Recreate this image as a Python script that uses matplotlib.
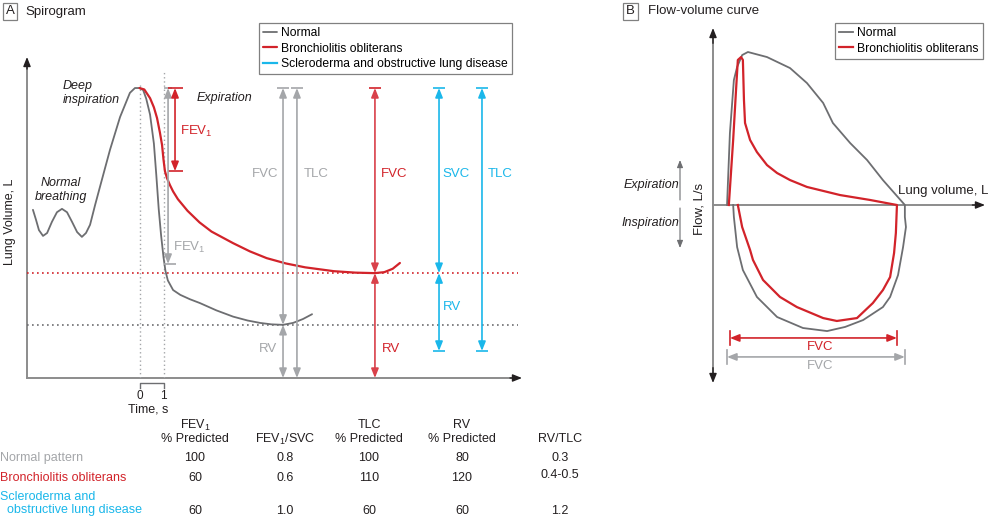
import matplotlib
matplotlib.use('Agg')
import matplotlib.pyplot as plt
import matplotlib.transforms as mtransforms
from matplotlib.patches import Rectangle
from matplotlib.lines import Line2D

plt.rcParams['font.family'] = ['Liberation Sans', 'DejaVu Sans']
plt.rcParams['mathtext.fontset'] = 'custom'
plt.rcParams['mathtext.rm'] = 'Liberation Sans'
plt.rcParams['mathtext.it'] = 'Liberation Sans:italic'

# ---------------- data ----------------
series_names = ['Normal', 'Bronchiolitis obliterans', 'Scleroderma and obstructive lung disease']

# Spirogram (time s, volume L)
t_normal = [-4.44, -4.31, -4.19, -4.02, -3.85, -3.65, -3.44, -3.23, -3.02, -2.81, -2.60, -2.40,
            -2.23, -2.06, -1.85, -1.65, -1.23, -0.81, -0.40, -0.19, 0.0, 0.15, 0.28, 0.44, 0.60,
            0.70, 0.80, 0.90, 1.00, 1.08, 1.18, 1.40, 1.70, 2.10, 2.52, 3.20, 3.90, 4.50, 5.02,
            5.50, 5.98, 6.40, 6.81, 7.19]
v_normal = [3.48, 3.27, 3.06, 2.94, 3.00, 3.23, 3.43, 3.50, 3.43, 3.23, 3.02, 2.92,
            3.00, 3.17, 3.58, 3.95, 4.72, 5.40, 5.90, 6.00, 6.00, 5.96, 5.78, 5.45, 4.85,
            4.20, 3.50, 2.95, 2.50, 2.22, 2.02, 1.82, 1.72, 1.63, 1.55, 1.40, 1.27, 1.19, 1.14,
            1.11, 1.10, 1.14, 1.22, 1.32]
t_bo = [0.0, 0.20, 0.44, 0.60, 0.73, 0.85, 0.94, 1.00, 1.06, 1.15, 1.27, 1.40, 1.60, 2.00, 2.50,
        3.00, 3.90, 4.60, 5.30, 6.10, 6.90, 8.10, 9.00, 9.80, 10.20, 10.55, 10.85]
v_bo = [6.00, 5.97, 5.79, 5.60, 5.38, 5.08, 4.82, 4.52, 4.28, 4.13, 3.99, 3.86, 3.70, 3.46, 3.22,
        3.03, 2.79, 2.62, 2.48, 2.37, 2.29, 2.21, 2.18, 2.17, 2.19, 2.26, 2.38]

TLC_A = 6.0          # total lung capacity level (L)
RV_normal = 1.10
RV_bo = 2.17
RV_scl_floor = 0.56  # scleroderma lower level
FEV1_normal_end = 2.36
FEV1_bo_end = 4.28

# Flow-volume (volume L, flow L/s)
fv_vol_normal = [0.39, 0.47, 0.58, 0.67, 0.81, 0.97, 1.50, 2.14, 2.61, 3.06, 3.33, 3.81, 4.28, 4.72, 5.33,
                 5.33, 5.36, 5.28, 5.14, 4.92, 4.72, 4.17, 3.67, 3.17, 2.50, 1.78, 1.22, 0.83, 0.67, 0.58, 0.56]
fv_flow_normal = [0.0, 4.71, 8.17, 9.02, 9.80, 10.0, 9.67, 8.95, 7.97, 6.67, 5.36, 4.05, 2.94, 1.63, 0.0,
                  -0.78, -1.44, -2.75, -4.58, -6.01, -6.67, -7.52, -7.97, -8.24, -8.04, -7.32, -6.01, -4.25, -2.75, -0.78, 0.0]
fv_vol_bo = [0.44, 0.56, 0.64, 0.69, 0.78, 0.83, 0.86, 0.89, 1.03, 1.22, 1.50, 1.78, 2.14, 2.61, 3.53, 4.36, 5.11,
             5.08, 5.03, 4.92, 4.72, 4.44, 4.00, 3.44, 3.06, 2.33, 1.86, 1.39, 1.11, 1.03, 0.81, 0.69]
fv_flow_bo = [0.0, 4.25, 7.52, 9.48, 9.67, 9.48, 6.86, 5.36, 4.25, 3.46, 2.61, 2.09, 1.63, 1.18, 0.65, 0.33, 0.0,
              -1.83, -3.14, -4.71, -5.56, -6.41, -7.39, -7.58, -7.39, -6.67, -6.01, -4.90, -3.59, -2.94, -1.44, 0.0]
FVC_normal_span = (0.39, 5.33)
FVC_bo_span = (0.47, 5.11)

# Table
table_cols = ['FEV$_\\mathregular{1}$\n% Predicted', 'FEV$_\\mathregular{1}$/SVC', 'TLC\n% Predicted',
              'RV\n% Predicted', 'RV/TLC']
table_rows = ['Normal pattern', 'Bronchiolitis obliterans', 'Scleroderma and\n  obstructive lung disease']
row_normal = ['100', '0.8', '100', '80', '0.3']
row_bo = ['60', '0.6', '110', '120', '0.4-0.5']
row_scl = ['60', '1.0', '60', '60', '1.2']

# ---------------- style ----------------
GRAY_CURVE = '#6d6e71'
GRAY_ANN = '#a4a6a9'
RED = '#d2232a'
RED_ANN = '#d9414a'
BLUE = '#1ab7ea'
AXIS = '#8c8c8c'
DARK = '#231f20'

W, H = 990, 518
fig = plt.figure(figsize=(W / 100, H / 100), dpi=100)
PX = mtransforms.Affine2D().scale(1 / W, -1 / H).translate(0, 1) + fig.transFigure


def ptext(x, y, s, **kw):
    kw.setdefault('fontsize', 9)
    kw.setdefault('va', 'center')
    fig.text(x, y, s, transform=PX, **kw)


def arrow(ax, p0, p1, color, style, lw=1.2, ms=10, coords='data'):
    ax.annotate('', xy=p1, xytext=p0, xycoords=coords, textcoords=coords, annotation_clip=False,
                arrowprops=dict(arrowstyle=style + ',head_length=0.55,head_width=0.22', color=color,
                                lw=lw, shrinkA=0, shrinkB=0, mutation_scale=ms))


def htick(ax, x0, x1, y, color, lw=1.2):
    ax.plot([x0, x1], [y, y], color=color, lw=lw, clip_on=False, solid_capstyle='butt')


# ---------------- Panel A ----------------
T_MIN, T_MAX = -4.6875, 15.9375
V_TOP = 6.642
axA = fig.add_axes([27 / W, 1 - 378 / H, 495 / W, 321 / H])
axA.set_xlim(T_MIN, T_MAX)
axA.set_ylim(0, V_TOP)
axA.axis('off')

# axes lines
axA.plot([T_MIN, T_MIN], [0, V_TOP - 0.15], color=AXIS, lw=1.4, clip_on=False)
axA.plot([T_MIN, T_MAX - 0.3], [0, 0], color=AXIS, lw=1.4, clip_on=False)
arrow(axA, (T_MIN, V_TOP - 0.25), (T_MIN, V_TOP), DARK, '-|>', lw=1.0)
arrow(axA, (T_MAX - 0.5, 0), (T_MAX, 0), DARK, '-|>', lw=1.0)

# dotted guides
axA.plot([0, 0], [0, 6.1], color=GRAY_ANN, lw=1.0, ls=(0, (1, 2)))
axA.plot([1, 1], [0, 6.35], color=GRAY_ANN, lw=1.0, ls=(0, (1, 2)))
axA.plot([T_MIN, 15.75], [RV_bo, RV_bo], color=RED, lw=1.2, ls=(0, (1, 2)))
axA.plot([T_MIN, 15.75], [RV_normal, RV_normal], color=GRAY_CURVE, lw=1.2, ls=(0, (1, 2)))

# curves
lnA_norm, = axA.plot(t_normal, v_normal, color=GRAY_CURVE, lw=1.3, solid_capstyle='round',
                     solid_joinstyle='round')
lnA_bo, = axA.plot(t_bo, v_bo, color=RED, lw=1.6, solid_capstyle='round', solid_joinstyle='round')

# FEV1 arrows
x_fev_n, x_fev_b = 1.19, 1.48
arrow(axA, (x_fev_n, TLC_A), (x_fev_n, FEV1_normal_end), GRAY_ANN, '<|-|>')
htick(axA, 1.0, 1.35, TLC_A, GRAY_ANN)
htick(axA, 1.0, 1.50, FEV1_normal_end, GRAY_ANN)
arrow(axA, (x_fev_b, TLC_A), (x_fev_b, FEV1_bo_end), RED, '<|-|>')
htick(axA, 1.19, 1.81, TLC_A, RED)
htick(axA, 1.19, 1.81, FEV1_bo_end, RED)

hw = 0.26
# Normal FVC / RV / TLC
xn_fvc, xn_tlc = 5.98, 6.56
arrow(axA, (xn_fvc, TLC_A), (xn_fvc, RV_normal), GRAY_ANN, '<|-|>')
arrow(axA, (xn_fvc, RV_normal), (xn_fvc, 0), GRAY_ANN, '<|-|>')
htick(axA, xn_fvc - hw, xn_fvc + hw, TLC_A, GRAY_ANN)
arrow(axA, (xn_tlc, TLC_A), (xn_tlc, 0), GRAY_ANN, '<|-|>')
htick(axA, xn_tlc - hw, xn_tlc + hw, TLC_A, GRAY_ANN)
# Bronchiolitis FVC / RV
xb = 9.81
arrow(axA, (xb, TLC_A), (xb, RV_bo), RED_ANN, '<|-|>')
arrow(axA, (xb, RV_bo), (xb, 0), RED_ANN, '<|-|>')
htick(axA, xb - hw, xb + hw, TLC_A, RED)
# Scleroderma SVC / RV / TLC
xs_svc, xs_tlc = 12.48, 14.27
arrow(axA, (xs_svc, TLC_A), (xs_svc, RV_bo), BLUE, '<|-|>')
arrow(axA, (xs_svc, RV_bo), (xs_svc, RV_scl_floor), BLUE, '<|-|>')
htick(axA, xs_svc - hw, xs_svc + hw, TLC_A, BLUE)
htick(axA, xs_svc - hw, xs_svc + hw, RV_scl_floor, BLUE)
arrow(axA, (xs_tlc, TLC_A), (xs_tlc, RV_scl_floor), BLUE, '<|-|>')
htick(axA, xs_tlc - hw, xs_tlc + hw, TLC_A, BLUE)
htick(axA, xs_tlc - hw, xs_tlc + hw, RV_scl_floor, BLUE)

# time scale bracket
axA.plot([0, 0, 1, 1], [-0.21, -0.11, -0.11, -0.21], color=GRAY_CURVE, lw=1.0, clip_on=False)

# Panel A texts
fig.add_artist(Rectangle((3, 3), 14, 17, transform=PX, fill=False, edgecolor='#808080', lw=0.9))
ptext(10, 11.5, 'A', ha='center', fontsize=9.5, color=DARK)
ptext(25, 11.5, 'Spirogram', ha='left', fontsize=9.5, color=DARK)
ptext(10, 222, 'Lung Volume, L', rotation=90, ha='center', color=DARK)
ptext(63, 86, 'Deep', style='italic', ha='left', color=DARK)
ptext(63, 100, 'inspiration', style='italic', ha='left', color=DARK)
ptext(61, 183, 'Normal', style='italic', ha='center', color=DARK)
ptext(61, 197, 'breathing', style='italic', ha='center', color=DARK)
ptext(197, 98, 'Expiration', style='italic', ha='left', color=DARK)
ptext(180, 131, 'FEV$_\\mathregular{1}$', ha='left', color=RED, fontsize=9.5)
ptext(173, 247, 'FEV$_\\mathregular{1}$', ha='left', color=GRAY_ANN, fontsize=9.5)
ptext(265, 174, 'FVC', ha='center', color=GRAY_ANN, fontsize=9.5)
ptext(316, 174, 'TLC', ha='center', color=GRAY_ANN, fontsize=9.5)
ptext(394, 174, 'FVC', ha='center', color=RED, fontsize=9.5)
ptext(456, 174, 'SVC', ha='center', color=BLUE, fontsize=9.5)
ptext(500, 174, 'TLC', ha='center', color=BLUE, fontsize=9.5)
ptext(268, 349, 'RV', ha='center', color=GRAY_ANN, fontsize=9.5)
ptext(391, 349, 'RV', ha='center', color=RED, fontsize=9.5)
ptext(452, 307, 'RV', ha='center', color=BLUE, fontsize=9.5)
ptext(139.5, 396, '0', ha='center', color=DARK, fontsize=8.5)
ptext(163.5, 396, '1', ha='center', color=DARK, fontsize=8.5)
ptext(148, 409, 'Time, s', ha='center', color=DARK)

legA = fig.legend([lnA_norm, lnA_bo, Line2D([], [], color=BLUE, lw=1.6)], series_names,
                  loc='upper left', bbox_to_anchor=(259 / W, 1 - 23 / H), bbox_transform=fig.transFigure,
                  borderaxespad=0, frameon=True, fancybox=False, edgecolor='#808080', framealpha=1,
                  fontsize=8.7, handlelength=1.1, handletextpad=0.4, labelspacing=0.28, borderpad=0.35)
legA.get_frame().set_linewidth(0.9)

# Table
col_x = [195, 285, 369, 462, 560]
for cx, head in zip(col_x, table_cols):
    lines = head.split('\n')
    if len(lines) == 2:
        ptext(cx, 425, lines[0], ha='center', color=DARK)
        ptext(cx, 439, lines[1], ha='center', color=DARK)
    else:
        ptext(cx, 439, lines[0], ha='center', color=DARK)
row_colors = [GRAY_ANN, RED, BLUE]
ptext(0, 458, table_rows[0], ha='left', color=row_colors[0])
ptext(0, 478, table_rows[1], ha='left', color=row_colors[1])
scl_lines = table_rows[2].split('\n')
ptext(0, 497, scl_lines[0], ha='left', color=row_colors[2])
ptext(0, 510.5, scl_lines[1], ha='left', color=row_colors[2])
for cx, val in zip(col_x, row_normal):
    ptext(cx, 458, val, ha='center', color=DARK)
for i, (cx, val) in enumerate(zip(col_x, row_bo)):
    ptext(cx, 475 if i == 4 else 478, val, ha='center', color=DARK)
for cx, val in zip(col_x, row_scl):
    ptext(cx, 510.5, val, ha='center', color=DARK)

# ---------------- Panel B ----------------
axB = fig.add_axes([713 / W, 1 - 383 / H, 272 / W, 355 / H])
VB_MAX = 7.556
FB_MIN, FB_MAX = -11.634, 11.569
axB.set_xlim(0, VB_MAX)
axB.set_ylim(FB_MIN, FB_MAX)
axB.axis('off')

axB.plot([0, 0], [FB_MIN + 0.6, FB_MAX - 0.6], color=AXIS, lw=1.4, clip_on=False)
axB.plot([0, VB_MAX - 0.2], [0, 0], color=AXIS, lw=1.4, clip_on=False)
arrow(axB, (0, FB_MAX - 1.0), (0, FB_MAX), DARK, '-|>', lw=1.0)
arrow(axB, (0, FB_MIN + 1.0), (0, FB_MIN), DARK, '-|>', lw=1.0)
arrow(axB, (VB_MAX - 0.35, 0), (VB_MAX, 0), DARK, '-|>', lw=1.0)

lnB_norm, = axB.plot(fv_vol_normal, fv_flow_normal, color=GRAY_CURVE, lw=1.3, solid_joinstyle='round')
lnB_bo, = axB.plot(fv_vol_bo, fv_flow_bo, color=RED, lw=1.6, solid_joinstyle='round')

# FVC arrows
y_red, y_gray = -8.69, -9.93
arrow(axB, (FVC_bo_span[0], y_red), (FVC_bo_span[1], y_red), RED, '<|-|>')
for xv in FVC_bo_span:
    axB.plot([xv, xv], [y_red - 0.45, y_red + 0.45], color=RED, lw=1.2, clip_on=False)
arrow(axB, (FVC_normal_span[0], y_gray), (FVC_normal_span[1], y_gray), GRAY_ANN, '<|-|>')
for xv in FVC_normal_span:
    axB.plot([xv, xv], [y_gray - 0.45, y_gray + 0.45], color=GRAY_ANN, lw=1.2, clip_on=False)

fig.add_artist(Rectangle((623, 3), 15, 17, transform=PX, fill=False, edgecolor='#808080', lw=0.9))
ptext(630.5, 11.5, 'B', ha='center', fontsize=9.5, color=DARK)
ptext(648, 11.5, 'Flow-volume curve', ha='left', fontsize=9.5, color=DARK)
ptext(988, 191, 'Lung volume, L', ha='right', color=DARK, fontsize=9.5)
ptext(700, 209, 'Flow, L/s', rotation=90, ha='center', color=DARK, fontsize=9.5)
ptext(651, 185, 'Expiration', style='italic', ha='center', color=DARK)
ptext(650, 223, 'Inspiration', style='italic', ha='center', color=DARK)
ptext(820, 347, 'FVC', ha='center', color=RED, fontsize=9.5)
ptext(820, 366, 'FVC', ha='center', color=GRAY_ANN, fontsize=9.5)
arrow(axB, (680, 200), (680, 160), GRAY_CURVE, '-|>', lw=0.8, ms=8, coords=PX)
arrow(axB, (680, 208), (680, 248), GRAY_CURVE, '-|>', lw=0.8, ms=8, coords=PX)

legB = fig.legend([lnB_norm, lnB_bo], series_names[:2],
                  loc='upper left', bbox_to_anchor=(835 / W, 1 - 23 / H), bbox_transform=fig.transFigure,
                  borderaxespad=0, frameon=True, fancybox=False, edgecolor='#808080', framealpha=1,
                  fontsize=8.7, handlelength=1.1, handletextpad=0.4, labelspacing=0.28, borderpad=0.35)
legB.get_frame().set_linewidth(0.9)

fig.savefig('out.png', dpi=100)
